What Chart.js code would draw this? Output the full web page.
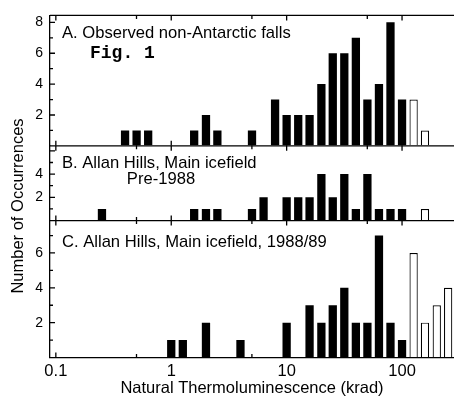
<!DOCTYPE html>
<html lang="en">
<head>
  <meta charset="UTF-8">
  <title>Natural Thermoluminescence</title>
  <script src="https://cdn.jsdelivr.net/npm/chart.js"></script>
  <style>
    body { margin: 0; background: #fff; }
    #wrap { width: 454px; height: 398px; position: relative; }
  </style>
</head>
<body>
  <div id="wrap"><canvas id="tl-chart"></canvas></div>

  <script>
    // bin centres (krad) and counts
    const aKrad = [0.398, 0.501, 0.631, 1.58, 2.00, 2.51, 5.01, 7.94, 10.0, 12.6, 15.8, 20.0, 25.1, 31.6, 39.8, 50.1, 63.1, 79.4, 100];
    const aCount = [1, 1, 1, 1, 2, 1, 1, 3, 2, 2, 2, 4, 6, 6, 7, 3, 4, 8, 3];
    const aOpenKrad = [126, 158];
    const aOpenCount = [3, 1];

    const bKrad = [0.251, 1.58, 2.00, 2.51, 5.01, 6.31, 10.0, 12.6, 15.8, 20.0, 25.1, 31.6, 39.8, 50.1, 63.1, 79.4, 100];
    const bCount = [1, 1, 1, 1, 1, 2, 2, 2, 2, 4, 2, 4, 1, 4, 1, 1, 1];
    const bOpenKrad = [158];
    const bOpenCount = [1];

    const cKrad = [1.00, 1.26, 2.00, 3.98, 10.0, 15.8, 20.0, 25.1, 31.6, 39.8, 50.1, 63.1, 79.4, 100];
    const cCount = [1, 1, 2, 1, 2, 3, 2, 3, 4, 2, 2, 7, 2, 1];
    const cOpenKrad = [126, 158, 200, 251];
    const cOpenCount = [6, 2, 3, 4];

    const xTicks = [0.1, 0.5, 1, 5, 10, 50, 100];
    const xLabels = ['0.1', '', '1', '', '10', '', '100'];

    const panelTitles = ['A. Observed non-Antarctic falls', 'B. Allan Hills, Main icefield', 'C. Allan Hills, Main icefield, 1988/89'];

    const FONT = '"Liberation Sans", Arial, sans-serif';

    const pts = (xs, ys) => xs.map((x, i) => ({ x: x, y: ys[i] }));

    const filled = (xs, ys, axis) => ({
      data: pts(xs, ys), yAxisID: axis,
      backgroundColor: '#000', borderColor: '#000', borderWidth: 0
    });
    const open = (xs, ys, axis) => ({
      data: pts(xs, ys), yAxisID: axis,
      backgroundColor: '#fff', borderColor: '#000', borderWidth: 1.2
    });

    const yAxis = (max, labelMax, weight, stackWeight) => ({
      type: 'linear', position: 'left', stack: 'panels', stackWeight: stackWeight,
      weight: weight, min: 0, max: max,
      grid: { drawOnChartArea: false, drawTicks: false },
      border: { color: '#000', width: 1.3 },
      afterBuildTicks: s => {
        const t = [];
        for (let v = 0; v <= max; v++) t.push({ value: v });
        s.ticks = t;
      },
      ticks: {
        autoSkip: false, padding: 7, color: '#000',
        font: { family: FONT, size: 14 },
        callback: v => (v > 0 && v <= labelMax && v % 2 === 0) ? v : ''
      },
      afterFit: s => { s.width = 50; }
    });

    // inward ticks, panel borders and panel labels
    const framePlugin = {
      id: 'frame',
      afterDraw(chart) {
        const ctx = chart.ctx;
        const area = chart.chartArea;
        const xs = chart.scales.x;
        ctx.save();
        ctx.strokeStyle = '#000';
        ctx.lineWidth = 1.3;
        ['yA', 'yB', 'yC'].forEach(id => {
          const ys = chart.scales[id];
          ctx.beginPath();
          ctx.moveTo(area.left, ys.top);
          ctx.lineTo(area.right, ys.top);
          xTicks.forEach((v, i) => {
            const px = xs.getPixelForValue(v);
            const len = xLabels[i] ? 5 : 3.5;
            ctx.moveTo(px, ys.top);
            ctx.lineTo(px, ys.top + len);
            ctx.moveTo(px, ys.bottom);
            ctx.lineTo(px, ys.bottom - len);
          });
          for (let v = 1; v <= ys.max; v++) {
            const py = ys.getPixelForValue(v);
            ctx.moveTo(area.left, py);
            ctx.lineTo(area.left + (v % 2 === 0 ? 5 : 3), py);
          }
          ctx.stroke();
        });

        ctx.fillStyle = '#000';
        ctx.textBaseline = 'alphabetic';
        ctx.font = '16.6px ' + FONT;
        ctx.textAlign = 'left';
        ctx.fillText(panelTitles[0], area.left + 12, chart.scales.yA.top + 23);
        ctx.fillText(panelTitles[1], area.left + 12, chart.scales.yB.top + 22);
        ctx.fillText(panelTitles[2], area.left + 12, chart.scales.yC.top + 26);
        ctx.textAlign = 'center';
        ctx.fillText('Pre-1988', area.left + 111, chart.scales.yB.top + 38);

        ctx.textAlign = 'left';
        ctx.font = 'bold 18px "Liberation Mono", "Courier New", monospace';
        ctx.fillText('Fig. 1', area.left + 40, chart.scales.yA.top + 43);

        // shared y title
        ctx.font = '16.5px ' + FONT;
        ctx.textAlign = 'center';
        ctx.translate(23, 206);
        ctx.rotate(-Math.PI / 2);
        ctx.fillText('Number of Occurrences', 0, 0);
        ctx.restore();
      }
    };

    new Chart(document.getElementById('tl-chart'), {
      type: 'bar',
      data: {
        datasets: [
          filled(aKrad, aCount, 'yA'), open(aOpenKrad, aOpenCount, 'yA'),
          filled(bKrad, bCount, 'yB'), open(bOpenKrad, bOpenCount, 'yB'),
          filled(cKrad, cCount, 'yC'), open(cOpenKrad, cOpenCount, 'yC')
        ]
      },
      options: {
        responsive: true,
        maintainAspectRatio: false,
        animation: false,
        layout: { padding: { top: 14, right: 0, left: 0, bottom: 0 } },
        datasets: { bar: { grouped: false, categoryPercentage: 1, barPercentage: 0.73 } },
        plugins: { legend: { display: false }, tooltip: { enabled: false } },
        scales: {
          x: {
            type: 'logarithmic', min: 0.089, max: 282, offset: false,
            grid: { drawOnChartArea: false, drawTicks: false },
            border: { color: '#000', width: 1.3 },
            afterBuildTicks: s => { s.ticks = xTicks.map(v => ({ value: v })); },
            ticks: {
              autoSkip: false, maxRotation: 0, padding: 4, color: '#000',
              font: { family: FONT, size: 16.5 },
              callback: (v, i) => xLabels[i]
            },
            title: {
              display: true, text: 'Natural Thermoluminescence (krad)', color: '#000',
              font: { family: FONT, size: 16.5 },
              padding: { top: 3, bottom: 0 }
            },
            afterFit: s => { s.height = 40.5; }
          },
          yA: yAxis(8.45, 8, 3, 131),
          yB: yAxis(6.43, 4, 2, 75),
          yC: yAxis(7.86, 6, 1, 137.5)
        }
      },
      plugins: [framePlugin]
    });
  </script>
</body>
</html>
